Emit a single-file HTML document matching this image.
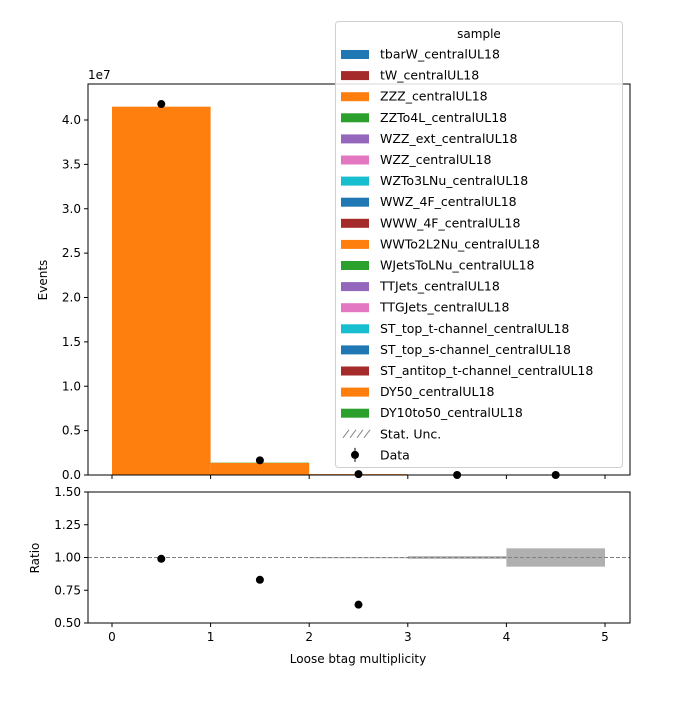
<!DOCTYPE html>
<html><head><meta charset="utf-8"><style>
body{margin:0;background:#fff;font-family:"Liberation Sans","DejaVu Sans",sans-serif}
svg text{font-family:"DejaVu Sans","Liberation Sans",sans-serif}
</style></head><body>
<svg id="c" width="700" height="700" xmlns="http://www.w3.org/2000/svg"></svg>
<script>
const binEdges=[0,1,2,3,4,5];
const orangeVals=[4.15e7,1.37e6,1.0e5,0,0];
const greenVals=[0,3e4,0,0,0];
const dataVals=[4.18e7,1.65e6,1.0e5,0,0];
const ratioVals=[0.99,0.83,0.64];
const uncLow=[1,1,0.998,0.99,0.93];
const uncHigh=[1,1,1.002,1.01,1.07];
const yTicks=[0,0.5,1.0,1.5,2.0,2.5,3.0,3.5,4.0];
const rTicks=[0.50,0.75,1.00,1.25,1.50];
const xTicks=[0,1,2,3,4,5];
const legendLabels=["tbarW_centralUL18","tW_centralUL18","ZZZ_centralUL18","ZZTo4L_centralUL18","WZZ_ext_centralUL18","WZZ_centralUL18","WZTo3LNu_centralUL18","WWZ_4F_centralUL18","WWW_4F_centralUL18","WWTo2L2Nu_centralUL18","WJetsToLNu_centralUL18","TTJets_centralUL18","TTGJets_centralUL18","ST_top_t-channel_centralUL18","ST_top_s-channel_centralUL18","ST_antitop_t-channel_centralUL18","DY50_centralUL18","DY10to50_centralUL18"];
const legendColors=["#1f77b4","#a52a2a","#ff7f0e","#2ca02c","#9467bd","#e377c2","#17becf","#1f77b4","#a52a2a","#ff7f0e","#2ca02c","#9467bd","#e377c2","#17becf","#1f77b4","#a52a2a","#ff7f0e","#2ca02c"];
const NS="http://www.w3.org/2000/svg",svg=document.getElementById('c');
function mk(t,a,p){const e=document.createElementNS(NS,t);for(const k in a)e.setAttribute(k,a[k]);(p||svg).appendChild(e);return e;}
const X=v=>112+v*98.6;
const Y=v=>475-v/1e7*88.75;
const R=v=>623-(v-0.5)*131;
// main bars
for(let i=0;i<5;i++){
 if(orangeVals[i]>0){const r=mk('rect',{x:X(binEdges[i]),y:Y(orangeVals[i]),width:X(binEdges[i+1])-X(binEdges[i]),height:475-Y(orangeVals[i]),fill:'#ff7f0e'});
 }
 if(greenVals[i]>0){const g=mk('rect',{x:X(binEdges[i]),y:Y(orangeVals[i]+greenVals[i]),width:X(binEdges[i+1])-X(binEdges[i]),height:Y(orangeVals[i])-Y(orangeVals[i]+greenVals[i]),fill:'#2ca02c'});
 }
}
for(let i=0;i<5;i++){const c=mk('circle',{cx:X(i+0.5),cy:Y(dataVals[i]),r:4,fill:'#000'});
 }
// main axes
const ax=mk('rect',{x:88,y:84,width:542,height:391,fill:'none',stroke:'#000','stroke-width':1});

yTicks.forEach(t=>{mk('line',{x1:84,x2:88,y1:Y(t*1e7),y2:Y(t*1e7),stroke:'#000'});
 const tx=mk('text',{x:81,y:Y(t*1e7)+4,'text-anchor':'end','font-size':12});tx.textContent=t.toFixed(1);
 });
let e7=mk('text',{x:88,y:79,'font-size':12});e7.textContent='1e7';
let yl=mk('text',{x:47,y:280,'font-size':12,'text-anchor':'middle',transform:'rotate(-90 47 280)'});yl.textContent='Events';

xTicks.forEach(t=>mk('line',{x1:X(t),x2:X(t),y1:475,y2:479,stroke:'#000'}));
// ratio
for(let i=0;i<5;i++){if(uncHigh[i]>uncLow[i]){const b=mk('rect',{x:X(binEdges[i]),y:R(uncHigh[i]),width:X(binEdges[i+1])-X(binEdges[i]),height:Math.max(1,R(uncLow[i])-R(uncHigh[i])),fill:'#b0b0b0'});
 }}
mk('line',{x1:88,x2:630,y1:R(1),y2:R(1),stroke:'#808080','stroke-dasharray':'4,2'});
ratioVals.forEach((v,i)=>{const c=mk('circle',{cx:X(i+0.5),cy:R(v),r:4,fill:'#000'});
 });
const ax2=mk('rect',{x:88,y:492,width:542,height:131,fill:'none',stroke:'#000'});

rTicks.forEach(t=>{mk('line',{x1:84,x2:88,y1:R(t),y2:R(t),stroke:'#000'});
 const tx=mk('text',{x:81,y:R(t)+4,'text-anchor':'end','font-size':12});tx.textContent=t.toFixed(2);
 });
xTicks.forEach(t=>{mk('line',{x1:X(t),x2:X(t),y1:623,y2:627,stroke:'#000'});
 const tx=mk('text',{x:X(t),y:641,'text-anchor':'middle','font-size':12});tx.textContent=t;
 });
let rl=mk('text',{x:39,y:558,'font-size':12,'text-anchor':'middle',transform:'rotate(-90 39 558)'});rl.textContent='Ratio';

let xl=mk('text',{x:358,y:663,'font-size':12,'text-anchor':'middle'});xl.textContent='Loose btag multiplicity';

// legend
const lg=mk('g',{});
mk('rect',{x:335.5,y:21.5,width:287,height:446,rx:3,fill:'#fff','fill-opacity':0.85,stroke:'#d0d0d0'},lg);
let lt=mk('text',{x:479,y:38,'text-anchor':'middle','font-size':12},lg);lt.textContent='sample';
legendLabels.forEach((n,i)=>{const y=54+i*21.1;
 const s=mk('rect',{x:341,y:y-4,width:28,height:9,fill:legendColors[i]},lg);
 
 const t=mk('text',{x:380,y:y+4.5,'font-size':12.5},lg);t.textContent=n;
 });
let sy=54+18*21.1;
for(let k=0;k<4;k++)mk('line',{x1:343+k*7,y1:sy+4,x2:349+k*7,y2:sy-4,stroke:'#888'},lg);
let st=mk('text',{x:380,y:sy+4.5,'font-size':12.5},lg);st.textContent='Stat. Unc.';

sy+=21.1;
mk('circle',{cx:355,cy:sy,r:4,fill:'#000'},lg);mk('line',{x1:355,x2:355,y1:sy-7,y2:sy+7,stroke:'#000'},lg);
let dt=mk('text',{x:380,y:sy+4.5,'font-size':12.5},lg);dt.textContent='Data';

</script>
</body></html>
